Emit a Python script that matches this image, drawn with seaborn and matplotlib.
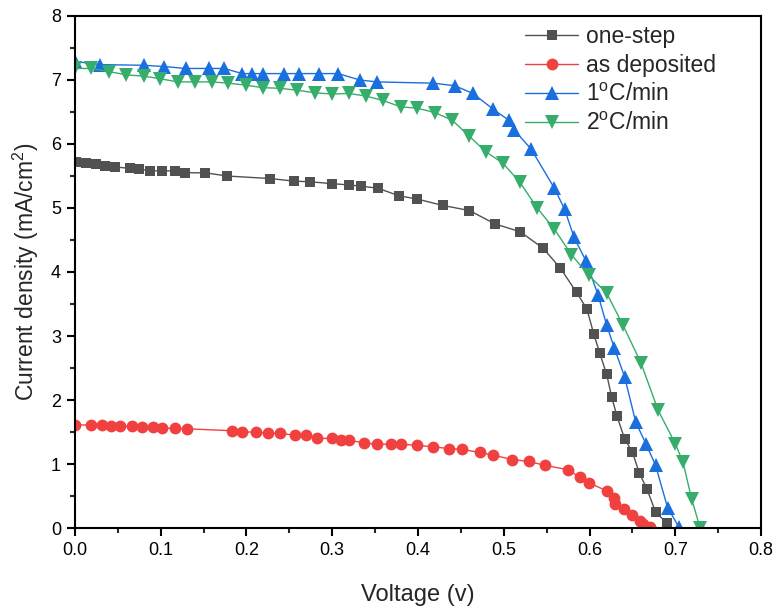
import pandas as pd
import seaborn as sns
import matplotlib.pyplot as plt
from matplotlib.ticker import MultipleLocator

# J-V curves
v_one = [0.001, 0.013, 0.025, 0.035, 0.047, 0.064, 0.075, 0.088, 0.101, 0.117, 0.128, 0.152, 0.177,
         0.228, 0.255, 0.274, 0.300, 0.320, 0.334, 0.353, 0.378, 0.399, 0.429, 0.460, 0.490, 0.519,
         0.546, 0.566, 0.585, 0.597, 0.605, 0.612, 0.620, 0.626, 0.632, 0.641, 0.650, 0.658, 0.667,
         0.677, 0.690]
j_one = [5.72, 5.70, 5.68, 5.66, 5.64, 5.62, 5.61, 5.58, 5.58, 5.58, 5.55, 5.55, 5.50,
         5.46, 5.42, 5.41, 5.38, 5.36, 5.34, 5.31, 5.19, 5.14, 5.04, 4.96, 4.75, 4.63,
         4.37, 4.06, 3.68, 3.42, 3.03, 2.73, 2.40, 2.04, 1.75, 1.39, 1.19, 0.86, 0.61,
         0.25, 0.08]

v_dep = [0.000, 0.019, 0.031, 0.042, 0.052, 0.067, 0.078, 0.091, 0.102, 0.117, 0.131, 0.183, 0.195,
         0.211, 0.225, 0.239, 0.256, 0.269, 0.282, 0.300, 0.310, 0.320, 0.337, 0.352, 0.369, 0.380,
         0.399, 0.418, 0.436, 0.451, 0.472, 0.487, 0.510, 0.529, 0.548, 0.575, 0.589, 0.599, 0.620,
         0.629, 0.630, 0.640, 0.650, 0.659, 0.662, 0.670]
j_dep = [1.61, 1.61, 1.61, 1.59, 1.59, 1.59, 1.58, 1.58, 1.56, 1.56, 1.55, 1.52, 1.50,
         1.50, 1.48, 1.48, 1.45, 1.45, 1.40, 1.40, 1.37, 1.37, 1.33, 1.31, 1.31, 1.31,
         1.29, 1.27, 1.24, 1.23, 1.18, 1.14, 1.07, 1.04, 0.98, 0.91, 0.79, 0.71, 0.58,
         0.47, 0.37, 0.29, 0.20, 0.11, 0.07, 0.02]

v_1c = [0.000, 0.029, 0.080, 0.104, 0.129, 0.156, 0.174, 0.195, 0.207, 0.219, 0.244, 0.261, 0.285,
        0.307, 0.332, 0.352, 0.418, 0.443, 0.464, 0.488, 0.506, 0.512, 0.532, 0.559, 0.571, 0.582,
        0.596, 0.610, 0.620, 0.629, 0.641, 0.654, 0.666, 0.677, 0.691, 0.704]
j_1c = [7.29, 7.24, 7.23, 7.21, 7.18, 7.18, 7.18, 7.10, 7.10, 7.10, 7.10, 7.10, 7.10,
        7.10, 7.00, 6.97, 6.95, 6.91, 6.79, 6.54, 6.37, 6.22, 5.92, 5.31, 4.98, 4.54,
        4.17, 3.64, 3.17, 2.81, 2.36, 1.65, 1.31, 0.98, 0.32, 0.02]

v_2c = [0.000, 0.019, 0.040, 0.060, 0.080, 0.099, 0.120, 0.140, 0.160, 0.179, 0.199, 0.219, 0.239,
        0.259, 0.280, 0.300, 0.319, 0.339, 0.359, 0.380, 0.399, 0.420, 0.440, 0.460, 0.479, 0.499,
        0.519, 0.539, 0.559, 0.579, 0.599, 0.620, 0.639, 0.660, 0.680, 0.700, 0.709, 0.719, 0.729]
j_2c = [7.18, 7.18, 7.13, 7.08, 7.06, 7.02, 6.97, 6.97, 6.97, 6.95, 6.92, 6.88, 6.87,
        6.84, 6.80, 6.78, 6.79, 6.75, 6.68, 6.58, 6.56, 6.49, 6.37, 6.12, 5.88, 5.70,
        5.40, 5.00, 4.67, 4.27, 3.95, 3.67, 3.17, 2.58, 1.84, 1.32, 1.03, 0.46, 0.00]

labels = ["one-step", "as deposited", "1$^{\\mathrm{o}}$C/min", "2$^{\\mathrm{o}}$C/min"]
colors = ["#515151", "#F14040", "#1A6FDF", "#37AD6B"]
markers = ["s", "o", "^", "v"]
msizes = [7.5, 8.5, 10, 10]

sns.set_theme(style="ticks")
plt.rcParams["font.family"] = ["Liberation Sans", "DejaVu Sans"]
plt.rcParams["mathtext.fontset"] = "custom"
plt.rcParams["mathtext.rm"] = "Liberation Sans"
plt.rcParams["mathtext.it"] = "Liberation Sans:italic"

fig = plt.figure(figsize=(7.76, 6.10), dpi=100)
ax = fig.add_axes([0.0966, 0.1344, 0.8841, 0.8394])

series = [(v_one, j_one), (v_dep, j_dep), (v_1c, j_1c), (v_2c, j_2c)]
for (v, j), lab, c, m, ms in zip(series, labels, colors, markers, msizes):
    df = pd.DataFrame({"V": v, "J": j})
    sns.lineplot(data=df, x="V", y="J", ax=ax, color=c, marker=m, markersize=ms,
                 markeredgewidth=0, linewidth=1.0, label=lab, sort=False, estimator=None)

ax.set_xlim(0, 0.8)
ax.set_ylim(0, 8)
ax.xaxis.set_major_locator(MultipleLocator(0.1))
ax.xaxis.set_minor_locator(MultipleLocator(0.05))
ax.yaxis.set_major_locator(MultipleLocator(1))
ax.yaxis.set_minor_locator(MultipleLocator(0.5))
ax.set_xticklabels([f"{t:.1f}" for t in ax.get_xticks()])
ax.tick_params(which="major", direction="out", length=6, width=1.5, labelsize=13, colors="black", pad=4)
ax.tick_params(which="minor", direction="out", length=3.5, width=1.5)
for s in ax.spines.values():
    s.set_linewidth(1.5)
    s.set_color("black")

ax.set_xlabel("Voltage (v)", fontsize=17, labelpad=18)
ax.set_ylabel("Current density (mA/cm$^{\\mathrm{2}}$)", fontsize=16.5, labelpad=7)

ax.legend(loc="upper left", bbox_to_anchor=(0.633, 1.0146), frameon=False, fontsize=16.5,
          handlelength=2.3, handletextpad=0.35, labelspacing=0.27, borderaxespad=0.3)

fig.savefig("out.png", dpi=100)
